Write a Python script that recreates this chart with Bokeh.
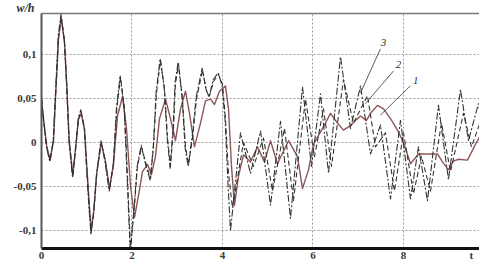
from bokeh.plotting import figure
from bokeh.models import Range1d, FixedTicker, LinearAxis, Label
from bokeh.embed import file_html
from bokeh.resources import INLINE

# ---- data ----
t1 = [0, 0.044, 0.117, 0.19, 0.265, 0.316, 0.376, 0.435, 0.508, 0.56,
      0.612, 0.692, 0.758, 0.818, 0.877, 0.95, 1.0, 1.054, 1.098, 1.156,
      1.222, 1.319, 1.408, 1.503, 1.591, 1.680,
      1.790, 1.878, 1.967, 2.055, 2.144, 2.232, 2.343, 2.431, 2.519, 2.608,
      2.74, 2.851, 2.961, 3.072, 3.182, 3.271, 3.381, 3.514, 3.624, 3.735,
      3.823, 3.934, 4.066, 4.133, 4.199, 4.265, 4.354, 4.464,
      4.619, 4.773, 4.928, 5.061, 5.215, 5.459, 5.657, 5.768, 5.901, 6.011,
      6.122, 6.276, 6.387, 6.541, 6.674, 6.829, 6.939, 7.050, 7.182, 7.271,
      7.425, 7.558, 7.713, 7.867, 8.000, 8.155, 8.331, 8.552, 8.751, 8.862,
      8.994, 9.105, 9.215, 9.414, 9.591, 9.768, 9.923, 10.033]
w1 = [0.049, 0.027, -0.005, -0.020, 0.002, 0.057, 0.117, 0.141, 0.113, 0.063,
      0.002, -0.037, -0.005, 0.026, 0.033, 0.015, -0.026, -0.069, -0.099, -0.077,
      -0.034, 0.0, -0.020, -0.052, -0.025, 0.030,
      0.052, 0.016, -0.049, -0.085, -0.06, -0.033, -0.025, -0.036, -0.016, 0.027,
      0.049, 0.027, 0.002, 0.038, 0.058, 0.033, -0.005, 0.022, 0.047, 0.049,
      0.043, 0.058, 0.064, 0.038, -0.027, -0.071, -0.038, -0.014,
      -0.022, -0.005, -0.022, 0.002, -0.024, 0.002, -0.016, -0.052, -0.031, -0.002,
      0.008, 0.022, 0.033, 0.022, 0.014, 0.019, 0.025, 0.030, 0.025, 0.033,
      0.042, 0.038, 0.027, 0.014, 0.000, -0.024, -0.013, -0.013, -0.013, -0.022,
      -0.031, -0.021, -0.019, -0.020, -0.002, 0.014, 0.012, 0.014]

t2 = [0, 0.044, 0.117, 0.19, 0.265, 0.316, 0.376, 0.435, 0.508, 0.56,
      0.612, 0.692, 0.758, 0.818, 0.877, 0.95, 1.0, 1.054, 1.098, 1.156,
      1.222, 1.319, 1.408, 1.503, 1.591, 1.665, 1.746, 1.834, 1.9, 1.967,
      2.055, 2.12, 2.21, 2.298, 2.409, 2.475, 2.54, 2.63, 2.72, 2.785,
      2.851, 2.917, 2.96, 3.028, 3.116, 3.182, 3.249, 3.337, 3.425, 3.558,
      3.646, 3.713, 3.801, 3.912, 4.0, 4.066, 4.133, 4.221,
      4.464, 4.685, 4.906, 5.105, 5.370, 5.569, 5.834, 6.033, 6.232, 6.409,
      6.674, 6.895, 7.204, 7.381, 7.602, 7.801, 8.0, 8.221, 8.398, 8.597,
      8.840, 9.039, 9.326, 9.503, 9.724, 9.923, 10.033]
w2 = [0.049, 0.027, -0.005, -0.020, 0.002, 0.057, 0.119, 0.143, 0.115, 0.064,
      0.002, -0.038, -0.005, 0.027, 0.035, 0.016, -0.027, -0.071, -0.102, -0.079,
      -0.035, 0.0, -0.020, -0.053, -0.024, 0.038, 0.074, 0.038, -0.038, -0.121,
      -0.071, -0.027, -0.005, -0.022, -0.041, -0.005, 0.055, 0.093, 0.06, 0.005,
      -0.027, 0.016, 0.066, 0.089, 0.049, -0.005, -0.025, 0.005, 0.049, 0.082,
      0.058, 0.053, 0.069, 0.077, 0.066, 0.027, -0.035, -0.074,
      0.0, -0.027, 0.005, -0.055, 0.016, -0.066, 0.049, -0.016, 0.038, -0.027,
      0.071, 0.022, 0.053, -0.005, 0.011, -0.055, 0.011, -0.058, -0.016, -0.055,
      0.022, -0.033, 0.033, -0.005, 0.027, 0.011, 0.016]

t3 = [0, 0.040, 0.112, 0.185, 0.258, 0.310, 0.370, 0.430, 0.503, 0.555,
      0.606, 0.686, 0.752, 0.812, 0.870, 0.944, 0.994, 1.048, 1.092, 1.150,
      1.216, 1.312, 1.401, 1.496, 1.585, 1.658, 1.738, 1.826, 1.893, 1.960,
      2.048, 2.113, 2.203, 2.291, 2.402, 2.468, 2.533, 2.622, 2.712, 2.777,
      2.843, 2.909, 2.952, 3.020, 3.108, 3.174, 3.241, 3.329, 3.417, 3.550,
      3.638, 3.705, 3.793, 3.904, 3.992, 4.058, 4.120, 4.177,
      4.398, 4.619, 4.840, 5.061, 5.282, 5.503, 5.768, 5.967, 6.166, 6.343,
      6.608, 6.829, 7.050, 7.271, 7.492, 7.713, 7.934, 8.155, 8.331, 8.530,
      8.773, 8.994, 9.260, 9.436, 9.657, 9.812, 9.989]
w3 = [0.050, 0.028, -0.006, -0.022, 0.002, 0.058, 0.121, 0.145, 0.117, 0.065,
      0.002, -0.040, -0.006, 0.028, 0.037, 0.017, -0.028, -0.073, -0.104, -0.081,
      -0.036, 0.002, -0.021, -0.055, -0.025, 0.040, 0.076, 0.040, -0.040, -0.123,
      -0.073, -0.028, -0.003, -0.023, -0.043, -0.006, 0.057, 0.095, 0.062, 0.006,
      -0.029, 0.017, 0.068, 0.091, 0.051, -0.006, -0.027, 0.006, 0.051, 0.084,
      0.060, 0.051, 0.071, 0.079, 0.064, 0.025, -0.045, -0.100,
      0.011, -0.035, 0.013, -0.071, 0.024, -0.086, 0.063, -0.027, 0.055, -0.035,
      0.097, 0.016, 0.064, -0.013, 0.020, -0.064, 0.025, -0.064, -0.005, -0.066,
      0.042, -0.042, 0.060, 0.002, 0.044, 0.005, 0.038]

x_ticks = [0, 2, 4, 6, 8]
x_tick_labels = ["0", "2", "4", "6", "8"]
y_ticks = [-0.1, -0.05, 0, 0.05, 0.1]
y_tick_labels = ["-0,1", "-0,05", "0", "0,05", "0,1"]
x_name, y_name = "t", "w/h"

SERIF = "Liberation Serif"
INK = "#333333"

p = figure(width=479, height=263, output_backend="svg", toolbar_location=None,
           x_range=Range1d(0, 9.68), y_range=Range1d(-0.12, 0.146),
           min_border_left=41, min_border_right=0, min_border_top=0, min_border_bottom=11)
p.outline_line_color = None
p.background_fill_color = "white"
p.border_fill_color = "white"

# y-name as a left-aligned title above the frame
p.title.text = y_name
p.title.align = "left"
p.title.offset = -25
p.title.standoff = -3
p.title.text_font = SERIF
p.title.text_font_style = "bold italic"
p.title.text_font_size = "12px"
p.title.text_color = INK

# axes (x-name shown as an extra tick label at the right end)
x_name_pos = 9.5
p.xaxis.ticker = FixedTicker(ticks=x_ticks + [x_name_pos])
p.xaxis.major_label_overrides = {**{v: s for v, s in zip(x_ticks, x_tick_labels)}, x_name_pos: x_name}
p.yaxis.ticker = FixedTicker(ticks=y_ticks)
p.yaxis.major_label_overrides = {v: s for v, s in zip(y_ticks, y_tick_labels)}
for ax in (p.xaxis, p.yaxis):
    ax.major_tick_out = 0
    ax.major_tick_in = 0
    ax.minor_tick_out = 0
    ax.minor_tick_in = 0
    ax.major_label_text_font = SERIF
    ax.major_label_text_font_style = "bold"
    ax.major_label_text_font_size = "11px"
    ax.major_label_text_color = "#3a3a3a"
p.xaxis.axis_line_color = "#111111"
p.xaxis.axis_line_width = 3
p.xaxis.major_label_standoff = 0
p.yaxis.axis_line_color = "#555555"
p.yaxis.axis_line_width = 2
p.yaxis.major_label_standoff = 5

top = LinearAxis(ticker=FixedTicker(ticks=[]), major_label_text_font_size="0px",
                 major_tick_out=0, major_tick_in=0, minor_tick_out=0, minor_tick_in=0,
                 major_label_standoff=0, axis_line_color="#777777", axis_line_width=1.5)
p.add_layout(top, "above")

# grid
p.xgrid.ticker = FixedTicker(ticks=x_ticks)
p.ygrid.ticker = FixedTicker(ticks=y_ticks)
for g in (p.xgrid, p.ygrid):
    g.grid_line_color = "#9a9a9a"
    g.grid_line_dash = "2 2"
    g.grid_line_width = 1

# curves
p.line(t1, w1, line_color="#8e5555", line_width=1.4, line_join="round")
p.line(t2, w2, line_color=INK, line_width=1.1, line_dash="5 3", line_join="round")
p.line(t3, w3, line_color=INK, line_width=1.1, line_dash="7 2 2 2", line_join="round")

# curve labels with leader lines
p.segment(x0=[7.49, 7.78, 8.15], y0=[0.106, 0.081, 0.064],
          x1=[7.05, 7.16, 7.49], y1=[0.056, 0.044, 0.031],
          line_color=INK, line_width=0.8)
for txt, tx, ty in (("3", 7.56, 0.1136), ("2", 7.89, 0.0879), ("1", 8.27, 0.070)):
    p.add_layout(Label(x=tx, y=ty, text=txt, text_font=SERIF, text_font_style="italic",
                       text_font_size="11px", text_color=INK,
                       text_align="center", text_baseline="middle"))

open("out.html", "w").write(file_html(p, INLINE))
